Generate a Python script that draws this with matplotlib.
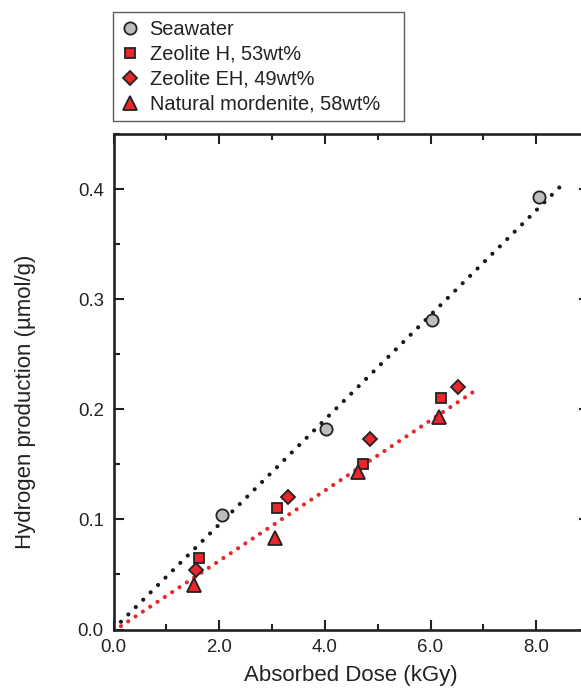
import matplotlib
matplotlib.use('Agg')
import matplotlib.pyplot as plt
from matplotlib.ticker import MultipleLocator, FormatStrFormatter

plt.rcParams['font.family'] = ['Liberation Sans', 'DejaVu Sans']

# data
seawater_x = [2.05, 4.03, 6.03, 8.05]
seawater_y = [0.104, 0.182, 0.281, 0.393]

zeolite_h_x = [1.61, 3.10, 4.72, 6.19]
zeolite_h_y = [0.065, 0.110, 0.150, 0.210]

zeolite_eh_x = [1.56, 3.31, 4.86, 6.52]
zeolite_eh_y = [0.054, 0.120, 0.173, 0.220]

mordenite_x = [1.53, 3.06, 4.63, 6.16]
mordenite_y = [0.040, 0.083, 0.143, 0.193]

# fitted lines (end points)
fit_sea_x = [0.14, 8.45]
fit_sea_y = [0.007, 0.402]
fit_zeo_x = [0.14, 6.88]
fit_zeo_y = [0.003, 0.218]

labels = ['Seawater', 'Zeolite H, 53wt%', 'Zeolite EH, 49wt%', 'Natural mordenite, 58wt%']

red = '#e8262b'
grey = '#bdbdbd'
edge = '#222222'

fig = plt.figure(figsize=(5.81, 6.93), dpi=100)
ax = fig.add_axes([113.5 / 581, 1 - 629.5 / 693, (589 - 113.5) / 581, (629.5 - 134) / 693])

ax.plot(fit_sea_x, fit_sea_y, color='#1a1a1a', lw=3, linestyle=(0, (0.01, 2.5)),
        dash_capstyle='round', zorder=2)
ax.plot(fit_zeo_x, fit_zeo_y, color=red, lw=3, linestyle=(0, (0.01, 2.1)),
        dash_capstyle='round', zorder=2)

h1, = ax.plot(seawater_x, seawater_y, 'o', ms=8.8, mfc=grey, mec=edge, mew=1.3, ls='none', zorder=3)
h2, = ax.plot(zeolite_h_x, zeolite_h_y, 's', ms=7.3, mfc=red, mec=edge, mew=1.3, ls='none', zorder=3)
h3, = ax.plot(zeolite_eh_x, zeolite_eh_y, 'D', ms=7.6, mfc=red, mec=edge, mew=1.3, ls='none', zorder=3)
h4, = ax.plot(mordenite_x, mordenite_y, '^', ms=10, mfc=red, mec=edge, mew=1.3, ls='none', zorder=3)

ax.set_xlim(0, 9.0)
ax.set_ylim(0, 0.45)
ax.xaxis.set_major_locator(MultipleLocator(2))
ax.xaxis.set_minor_locator(MultipleLocator(1))
ax.yaxis.set_major_locator(MultipleLocator(0.1))
ax.yaxis.set_minor_locator(MultipleLocator(0.05))
ax.xaxis.set_major_formatter(FormatStrFormatter('%.1f'))
ax.yaxis.set_major_formatter(FormatStrFormatter('%.1f'))

ax.tick_params(which='both', direction='in', top=True, right=True, color='#222222',
               labelsize=13.4, labelcolor='#222222')
ax.tick_params(which='major', length=7, width=1.5, pad=7)
ax.tick_params(which='minor', length=4, width=1.5)
for s in ax.spines.values():
    s.set_linewidth(1.9)
    s.set_color('#222222')

ax.set_xlabel('Absorbed Dose (kGy)', fontsize=16, color='#222222', labelpad=6)
ax.set_ylabel('Hydrogen production (µmol/g)', fontsize=16, color='#222222')
ax.yaxis.set_label_coords(-0.162, 0.46)

leg = fig.legend([h1, h2, h3, h4], labels, loc='upper left', mode='expand',
                 bbox_to_anchor=(113 / 581, 1 - 120 / 693, 291 / 581, 108 / 693),
                 borderaxespad=0, fontsize=14.4, frameon=True, fancybox=False,
                 handlelength=0.9, handletextpad=0.55, labelspacing=0.3, borderpad=0.38)
leg.get_frame().set_edgecolor('#333333')
leg.get_frame().set_linewidth(1.0)
for t in leg.get_texts():
    t.set_color('#222222')

fig.savefig('out.png', dpi=100)
